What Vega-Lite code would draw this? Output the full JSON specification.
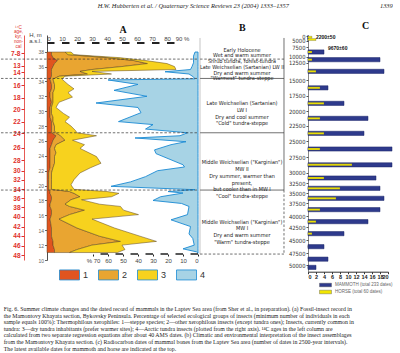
{
  "$schema": "https://vega.github.io/schema/vega-lite/v6.json",
  "background": "white",
  "padding": {"left": 0, "top": 2, "right": 0, "bottom": 0},
  "config": {"view": {"stroke": null}, "font": "Liberation Sans", "axis": {"grid": false, "labelOverlap": false}},
  "title": {
    "text": "H.W. Hubberten et al. / Quaternary Science Reviews 23 (2004) 1333–1357\u00a0\u00a0\u00a0\u00a0\u00a0\u00a0\u00a0\u00a0\u00a0\u00a0\u00a0\u00a0\u00a0\u00a0\u00a0\u00a0\u00a0\u00a0\u00a0\u00a0\u00a0\u00a0\u00a0\u00a0\u00a0\u00a0\u00a0\u00a0\u00a0\u00a0\u00a0\u00a0\u00a0\u00a0\u00a0\u00a0\u00a0\u00a0\u00a0\u00a0\u00a0\u00a0\u00a0\u00a0\u00a0\u00a0\u00a0\u00a0\u00a0\u00a0\u00a0\u00a0\u00a0\u00a0\u00a0\u00a0\u00a01339",
    "anchor": "start", "frame": "bounds", "dx": 97, "offset": 12,
    "font": "Liberation Serif", "fontStyle": "italic", "fontWeight": "normal", "fontSize": 6.4, "color": "#222"
  },
  "bounds": "flush",
  "spacing": 2,
  "resolve": {"scale": {"color": "independent"}, "legend": {"color": "independent"}},
  "hconcat": [
    {
      "width": 151,
      "height": 225,
      "title": {
        "text": [
          "Fig. 6. Summer climate changes and the dated record of mammals in the Laptev Sea area (from Sher et al., in preparation). (a) Fossil-insect record in",
          "the Mamontovy Khayata section, Bykovsky Peninsula. Percentage of selected ecological groups of insects (minimum number of individuals in each",
          "sample equals 100%): Thermophilous xerophiles: 1—steppe species; 2—other xerophilous insects (except tundra ones); Insects, currently common in",
          "tundra: 3—dry tundra inhabitants (prefer warmer sites); 4—Arctic tundra insects (plotted from the right axis). ¹⁴C ages in the left column are",
          "calculated from two separate regression equations after about 40 AMS dates. (b) Climatic and environmental interpretation of the insect assemblages",
          "from the Mamontovy Khayata section. (c) Radiocarbon dates of mammal bones from the Laptev Sea area (number of dates in 2500-year intervals).",
          "The latest available dates for mammoth and horse are indicated at the top."
        ],
        "orient": "bottom", "anchor": "start", "frame": "bounds", "dx": 3, "offset": 24,
        "font": "Liberation Serif", "fontSize": 5.85, "fontWeight": "normal", "lineHeight": 6.6, "color": "#222"
      },
      "resolve": {"scale": {"x": "independent", "y": "independent"}},
      "layer": [
        {
          "data": {"values": [
            {"H": 37.95, "1": 3, "2": 9, "3": 4},
            {"H": 37.6, "1": 3, "2": 11, "3": 4},
            {"H": 37.2, "1": 4, "2": 36, "3": 8},
            {"H": 36.8, "1": 7, "2": 51, "3": 8},
            {"H": 36.4, "1": 5, "2": 62, "3": 13},
            {"H": 36.0, "1": 4, "2": 46, "3": 35},
            {"H": 35.6, "1": 3, "2": 27, "3": 56},
            {"H": 35.35, "1": 3, "2": 19, "3": 8},
            {"H": 35.0, "1": 3, "2": 24, "3": 16},
            {"H": 34.7, "1": 3, "2": 5, "3": 4},
            {"H": 34.3, "1": 2, "2": 2, "3": 6},
            {"H": 33.6, "1": 3, "2": 2, "3": 9},
            {"H": 33.0, "1": 3, "2": 2, "3": 13},
            {"H": 32.5, "1": 2, "2": 2, "3": 10},
            {"H": 31.9, "1": 2, "2": 2, "3": 13},
            {"H": 31.2, "1": 3, "2": 1, "3": 4},
            {"H": 30.5, "1": 2, "2": 1, "3": 3},
            {"H": 29.7, "1": 2, "2": 1, "3": 8},
            {"H": 29.2, "1": 2, "2": 2, "3": 11},
            {"H": 28.6, "1": 3, "2": 1, "3": 8},
            {"H": 28.0, "1": 3, "2": 2, "3": 11},
            {"H": 27.4, "1": 3, "2": 2, "3": 14},
            {"H": 27.1, "1": 3, "2": 3, "3": 14},
            {"H": 26.7, "1": 6, "2": 3, "3": 24},
            {"H": 26.1, "1": 4, "2": 8, "3": 5},
            {"H": 25.5, "1": 3, "2": 3, "3": 19},
            {"H": 25.0, "1": 2, "2": 3, "3": 17},
            {"H": 24.4, "1": 2, "2": 4, "3": 22},
            {"H": 23.9, "1": 2, "2": 3, "3": 28},
            {"H": 23.0, "1": 2, "2": 3, "3": 31},
            {"H": 22.4, "1": 2, "2": 2, "3": 25},
            {"H": 21.7, "1": 1, "2": 2, "3": 19},
            {"H": 20.8, "1": 1, "2": 2, "3": 15},
            {"H": 20.1, "1": 1, "2": 2, "3": 13},
            {"H": 19.5, "1": 1, "2": 2, "3": 15},
            {"H": 19.2, "1": 2, "2": 13, "3": 25},
            {"H": 18.96, "1": 2, "2": 16, "3": 30},
            {"H": 18.5, "1": 3, "2": 19, "3": 21},
            {"H": 18.1, "1": 3, "2": 13, "3": 7},
            {"H": 17.5, "1": 2, "2": 10, "3": 23},
            {"H": 17.2, "1": 2, "2": 13, "3": 34},
            {"H": 16.7, "1": 3, "2": 22, "3": 26},
            {"H": 16.1, "1": 3, "2": 12, "3": 46},
            {"H": 15.5, "1": 2, "2": 6, "3": 22},
            {"H": 14.3, "1": 3, "2": 17, "3": 25},
            {"H": 13.2, "1": 3, "2": 32, "3": 27},
            {"H": 12.5, "1": 4, "2": 45, "3": 24},
            {"H": 12.0, "1": 4, "2": 26, "3": 20},
            {"H": 11.4, "1": 5, "2": 15, "3": 32},
            {"H": 11.0, "1": 5, "2": 10, "3": 32}
          ]},
          "transform": [{"fold": ["1", "2", "3"], "as": ["group", "pct"]}],
          "mark": {"type": "area", "orient": "horizontal", "stroke": "#5a4320", "strokeWidth": 0.5, "opacity": 1},
          "encoding": {
            "y": {"field": "H", "type": "quantitative",
              "scale": {"domain": [10, 40.24], "nice": false, "zero": false},
              "axis": {"orient": "left", "values": [10, 12, 14, 16, 18, 20, 22, 24, 26, 28, 30, 32, 34, 36, 38],
                "title": ["H, m", "a.s.l."], "titleAngle": 0, "titleX": -12, "titleY": -4, "titleAlign": "center", "titleBaseline": "top",
                "titleFontSize": 6, "titleFontWeight": "normal", "titleColor": "#444", "titleLineHeight": 6.5,
                "labelFontSize": 5, "labelColor": "#666", "labelPadding": 1, "tickSize": 2.5, "tickColor": "#666",
                "domainColor": "#222", "domainWidth": 0.8}},
            "x": {"field": "pct", "type": "quantitative", "stack": "zero",
              "scale": {"domain": [0, 100.67], "nice": false},
              "axis": {"orient": "top", "offset": -8, "values": [0, 10, 20, 30, 40, 50, 60, 70, 80, 90],
                "labelExpr": "datum.value == 90 ? '90 %' : datum.label",
                "title": "A", "titleFont": "Liberation Serif", "titleFontSize": 10, "titleFontWeight": "bold", "titlePadding": 1, "titleColor": "#111",
                "labelFontSize": 6, "labelColor": "#444", "labelPadding": 2, "tickSize": 0, "domain": false}},
            "color": {"field": "group", "type": "nominal",
              "scale": {"domain": ["1", "2", "3", "4"], "range": ["#e0541f", "#e9a531", "#f7d21e", "#a7d3e5"]},
              "legend": {"orient": "none", "legendX": 12, "legendY": 229, "direction": "horizontal", "title": null,
                "symbolType": "M-1,-0.5H1V0.5H-1Z", "symbolSize": 400, "symbolStrokeColor": "#333", "symbolStrokeWidth": 0.8, "symbolOpacity": 1,
                "labelFontSize": 9, "labelColor": "#333", "labelOffset": 3, "columnPadding": 7, "labelBaseline": "middle"}},
            "order": {"field": "group", "sort": "ascending"}
          }
        },
        {
          "data": {"values": [
            {"H": 37.95, "a": 2}, {"H": 37.4, "a": 3}, {"H": 37.0, "a": 3}, {"H": 36.5, "a": 3},
            {"H": 36.0, "a": 4}, {"H": 35.6, "a": 5}, {"H": 35.3, "a": 22}, {"H": 35.0, "a": 6},
            {"H": 34.6, "a": 3}, {"H": 34.35, "a": 2}, {"H": 34.2, "a": 60}, {"H": 33.6, "a": 40},
            {"H": 32.8, "a": 56}, {"H": 32.0, "a": 34}, {"H": 31.1, "a": 68}, {"H": 30.5, "a": 40},
            {"H": 29.8, "a": 38}, {"H": 28.6, "a": 53}, {"H": 28.2, "a": 30}, {"H": 27.6, "a": 35},
            {"H": 27.1, "a": 7}, {"H": 26.7, "a": 12}, {"H": 26.4, "a": 42}, {"H": 25.9, "a": 8},
            {"H": 25.5, "a": 18}, {"H": 24.8, "a": 29}, {"H": 24.3, "a": 28}, {"H": 23.8, "a": 22},
            {"H": 22.8, "a": 10}, {"H": 22.5, "a": 9}, {"H": 22.0, "a": 27}, {"H": 21.2, "a": 35},
            {"H": 20.5, "a": 45}, {"H": 19.9, "a": 58}, {"H": 19.45, "a": 2}, {"H": 19.2, "a": 20},
            {"H": 19.0, "a": 10}, {"H": 18.5, "a": 25}, {"H": 18.0, "a": 30}, {"H": 17.6, "a": 11},
            {"H": 17.2, "a": 6}, {"H": 16.1, "a": 7}, {"H": 15.4, "a": 18}, {"H": 14.5, "a": 5},
            {"H": 13.5, "a": 6}, {"H": 12.9, "a": 3.5}, {"H": 12.0, "a": 2.5}, {"H": 11.5, "a": 10},
            {"H": 11.1, "a": 1}, {"H": 10.9, "a": 0}
          ]},
          "mark": {"type": "area", "orient": "horizontal", "stroke": "#1a8ad4", "strokeWidth": 0.9, "opacity": 1},
          "encoding": {
            "y": {"field": "H", "type": "quantitative", "scale": {"domain": [10, 40.24], "nice": false, "zero": false}, "axis": null},
            "x": {"field": "a", "type": "quantitative",
              "scale": {"domain": [0, 100.67], "reverse": true, "nice": false},
              "axis": {"orient": "bottom", "offset": -6, "values": [0, 10, 20, 30, 40, 50, 60, 70],
                "labelExpr": "datum.value == 70 ? '% 70' : datum.label", "title": null,
                "labelFontSize": 6, "labelColor": "#444", "labelPadding": 1, "tickSize": 2, "tickColor": "#222", "domain": false}},
            "color": {"datum": "4"}
          }
        },
        {
          "data": {"values": [{"bar": "arctic scale"}]},
          "mark": {"type": "rule", "stroke": "#222", "strokeWidth": 1.5, "strokeDash": [7.5, 7.5]},
          "encoding": {
            "x": {"datum": 0, "type": "quantitative", "scale": {"domain": [0, 100.67], "reverse": true, "nice": false}, "axis": null},
            "x2": {"datum": 70},
            "y": {"datum": 10.81, "type": "quantitative", "scale": {"domain": [10, 40.24], "nice": false, "zero": false}, "axis": null}
          }
        },
        {
          "data": {"values": [{"bar": "percent scale"}]},
          "mark": {"type": "rule", "stroke": "#222", "strokeWidth": 2, "strokeDash": [7.5, 7.5]},
          "encoding": {
            "x": {"datum": 0, "type": "quantitative", "scale": {"domain": [0, 100.67], "nice": false}, "axis": null},
            "x2": {"datum": 90},
            "y": {"datum": 39.17, "type": "quantitative", "scale": {"domain": [10, 40.24], "nice": false, "zero": false}, "axis": null}
          }
        },
        {
          "data": {"values": [{"H": 37.0}, {"H": 34.4}, {"H": 27.1}, {"H": 19.4}]},
          "mark": {"type": "rule", "strokeDash": [2.5, 1.8], "stroke": "#333", "strokeWidth": 0.7},
          "encoding": {
            "y": {"field": "H", "type": "quantitative",
              "scale": {"domain": [10, 40.24], "nice": false, "zero": false},
              "axis": {"orient": "left", "offset": 23,
                "values": [37.78, 36.12, 35.23, 33.52, 31.82, 30.26, 28.59, 27.03, 25.1, 23.44, 22.01, 20.76, 19.51, 18.3, 17.09, 15.82, 14.48, 13.27, 11.92, 10.67],
                "labelExpr": "['7-8','13','14','16','18','20','22','24','26','28','30','32','34','36','38','40','42','44','46','48'][indexof([37.78,36.12,35.23,33.52,31.82,30.26,28.59,27.03,25.1,23.44,22.01,20.76,19.51,18.3,17.09,15.82,14.48,13.27,11.92,10.67], datum.value)]",
                "labelColor": "#e0302a", "labelFontWeight": "bold", "labelFontSize": 6.5, "labelPadding": 1,
                "tickColor": "#e0302a", "tickSize": 3, "domainColor": "#e0302a", "domainWidth": 0.8,
                "title": ["¹⁴C", "age,", "kyr,", "non-", "cal"], "titleAngle": 0, "titleX": -6, "titleY": -11,
                "titleAlign": "center", "titleBaseline": "top", "titleColor": "#e0302a", "titleFontSize": 4.6,
                "titleLineHeight": 4.8, "titleFontWeight": "normal"}},
            "x": {"datum": -30.67, "type": "quantitative", "scale": {"domain": [0, 100.67], "nice": false}, "axis": null},
            "x2": {"datum": 100.67}
          }
        }
      ]
    },
    {
      "width": 106,
      "height": 225,
      "title": {"text": "B", "anchor": "start", "frame": "group", "dx": 39, "offset": 2,
        "font": "Liberation Serif", "fontSize": 10, "fontWeight": "bold", "color": "#111"},
      "layer": [
        {
          "data": {"values": [
            {"label": "Early Holocene\nWet and warm summer\nShrub tundra, forest-tundra", "H": 38.2},
            {"label": "Late Weichselian (Sartanian) LW II\nDry and warm summer\n\"Warmest\" tundra-steppe", "H": 35.9}
          ]},
          "mark": {"type": "text", "font": "Liberation Sans Narrow, DejaVu Sans Condensed, sans-serif", "fontSize": 5.5, "color": "#222",
            "align": "center", "baseline": "middle", "lineBreak": "\n", "lineHeight": 5.3},
          "encoding": {
            "x": {"datum": 0.5, "type": "quantitative", "scale": {"domain": [0, 1.262], "nice": false, "zero": false}, "axis": null},
            "y": {"field": "H", "type": "quantitative", "scale": {"domain": [10, 40.24], "nice": false, "zero": false}, "axis": null},
            "text": {"field": "label"}
          }
        },
        {
          "data": {"values": [
            {"label": "Late Weichselian (Sartanian)\nLW I\nDry and cool summer\n\"Cold\" tundra-steppe", "H": 31.1},
            {"label": "Middle Weichselian (\"Karginian\")\nMW II\nDry summer, warmer than\npresent,\nbut cooler than in MW I\n\"Cool\" tundra-steppe", "H": 23.15},
            {"label": "Middle Weichselian (\"Karginian\")\nMW I\nDry and warm summer\n\"Warm\" tundra-steppe", "H": 15.15}
          ]},
          "mark": {"type": "text", "font": "Liberation Sans Narrow, DejaVu Sans Condensed, sans-serif", "fontSize": 5.5, "color": "#222",
            "align": "center", "baseline": "middle", "lineBreak": "\n", "lineHeight": 6.8},
          "encoding": {
            "x": {"datum": 0.5, "type": "quantitative", "scale": {"domain": [0, 1.262], "nice": false, "zero": false}, "axis": null},
            "y": {"field": "H", "type": "quantitative", "scale": {"domain": [10, 40.24], "nice": false, "zero": false}, "axis": null},
            "text": {"field": "label"}
          }
        },
        {
          "data": {"values": [{"H": 34.4}, {"H": 27.1}, {"H": 19.4}]},
          "mark": {"type": "rule", "stroke": "#333", "strokeWidth": 0.7},
          "encoding": {
            "x": {"datum": 0, "type": "quantitative", "scale": {"domain": [0, 1.262], "nice": false, "zero": false}, "axis": null},
            "x2": {"datum": 1},
            "y": {"field": "H", "type": "quantitative", "scale": {"domain": [10, 40.24], "nice": false, "zero": false}, "axis": null}
          }
        },
        {
          "data": {"values": [{"H": 37.0}, {"H": 10.8}]},
          "mark": {"type": "rule", "stroke": "#333", "strokeWidth": 0.7, "strokeDash": [2.5, 1.8]},
          "encoding": {
            "x": {"datum": 0, "type": "quantitative", "scale": {"domain": [0, 1.262], "nice": false, "zero": false}, "axis": null},
            "x2": {"datum": 1},
            "y": {"field": "H", "type": "quantitative", "scale": {"domain": [10, 40.24], "nice": false, "zero": false}, "axis": null}
          }
        },
        {
          "data": {"values": [{"side": "right"}]},
          "mark": {"type": "rule", "stroke": "#333", "strokeWidth": 0.7},
          "encoding": {
            "x": {"datum": 1, "type": "quantitative", "scale": {"domain": [0, 1.262], "nice": false, "zero": false}, "axis": null},
            "y": {"datum": 39.84, "type": "quantitative", "scale": {"domain": [10, 40.24], "nice": false, "zero": false}, "axis": null},
            "y2": {"datum": 19.4}
          }
        },
        {
          "data": {"values": [{"side": "right"}]},
          "mark": {"type": "rule", "stroke": "#333", "strokeWidth": 0.7, "strokeDash": [2.5, 1.8]},
          "encoding": {
            "x": {"datum": 1, "type": "quantitative", "scale": {"domain": [0, 1.262], "nice": false, "zero": false}, "axis": null},
            "y": {"datum": 19.4, "type": "quantitative", "scale": {"domain": [10, 40.24], "nice": false, "zero": false}, "axis": null},
            "y2": {"datum": 10.8}
          }
        },
        {
          "data": {"values": [{"side": "left"}]},
          "mark": {"type": "rule", "stroke": "#888", "strokeWidth": 0.5},
          "encoding": {
            "x": {"datum": 0, "type": "quantitative", "scale": {"domain": [0, 1.262], "nice": false, "zero": false}, "axis": null},
            "y": {"datum": 39.84, "type": "quantitative", "scale": {"domain": [10, 40.24], "nice": false, "zero": false}, "axis": null},
            "y2": {"datum": 10.8}
          }
        }
      ]
    },
    {
      "width": 80,
      "height": 225,
      "title": {"text": "C", "anchor": "start", "frame": "group", "dx": 54, "offset": 2,
        "font": "Liberation Serif", "fontSize": 10, "fontWeight": "bold", "color": "#111"},
      "data": {"values": [
        {"interval": "0-2500", "age": 1250, "mammoth": 0, "horse": 1},
        {"interval": "2500-5000", "age": 3750, "mammoth": 0, "horse": 2},
        {"interval": "7500-10000", "age": 8750, "mammoth": 4, "horse": 1},
        {"interval": "10000-12500", "age": 11250, "mammoth": 18, "horse": 1},
        {"interval": "12500-15000", "age": 13750, "mammoth": 19, "horse": 2},
        {"interval": "15000-17500", "age": 16250, "mammoth": 5, "horse": 3},
        {"interval": "17500-20000", "age": 18750, "mammoth": 9, "horse": 4},
        {"interval": "20000-22500", "age": 21250, "mammoth": 15, "horse": 3},
        {"interval": "22500-25000", "age": 23750, "mammoth": 14, "horse": 4},
        {"interval": "25000-27500", "age": 26250, "mammoth": 21, "horse": 3},
        {"interval": "27500-30000", "age": 28750, "mammoth": 21, "horse": 11},
        {"interval": "30000-32500", "age": 31250, "mammoth": 17, "horse": 4},
        {"interval": "32500-35000", "age": 33750, "mammoth": 18, "horse": 8},
        {"interval": "35000-37500", "age": 36250, "mammoth": 19, "horse": 7},
        {"interval": "37500-40000", "age": 38750, "mammoth": 18, "horse": 3},
        {"interval": "40000-42500", "age": 41250, "mammoth": 15, "horse": 2},
        {"interval": "42500-45000", "age": 43750, "mammoth": 9, "horse": 1},
        {"interval": "45000-47500", "age": 46250, "mammoth": 4, "horse": 0},
        {"interval": "47500-50000", "age": 48750, "mammoth": 5, "horse": 0},
        {"interval": "50000-52500", "age": 51250, "mammoth": 2, "horse": 0}
      ]},
      "encoding": {
        "y": {"field": "age", "type": "quantitative",
          "scale": {"domain": [0, 5000, 7500, 10000, 12500, 15000, 17500, 20000, 22500, 25000, 27500, 30000, 32500, 35000, 37500, 40000, 42500, 45000, 47500, 50000, 52500],
            "range": [0, 5.7, 12.3, 21.7, 27.7, 45, 60.7, 76, 90.7, 106, 122, 137.7, 148.3, 158.3, 168.3, 181, 192.3, 205, 218.3, 230, 237],
            "nice": false, "zero": false},
          "axis": {"orient": "left", "values": [0, 5000, 7500, 10000, 12500, 15000, 17500, 20000, 22500, 25000, 27500, 30000, 32500, 35000, 37500, 40000, 42500, 45000, 47500, 50000],
            "format": "d", "title": null, "labelFont": "Liberation Sans Narrow, DejaVu Sans Condensed, sans-serif", "labelFontSize": 5.8,
            "labelColor": "#333", "labelPadding": 1, "labelOverlap": false, "tickSize": 2, "tickColor": "#555", "domainColor": "#555", "domainWidth": 0.7}}
      },
      "layer": [
        {
          "mark": {"type": "bar", "orient": "horizontal", "size": 4.2, "stroke": "#1b2466", "strokeWidth": 0.5},
          "encoding": {
            "x": {"field": "mammoth", "type": "quantitative", "scale": {"domain": [0, 20], "nice": false},
              "axis": {"orient": "bottom", "offset": 11.7, "values": [0, 2, 4, 6, 8, 10, 12, 14, 16, 18, 20], "title": null, "labelOverlap": false,
                "labelFontSize": 5.5, "labelFontWeight": "bold", "labelColor": "#222", "labelPadding": 1, "tickSize": 2,
                "domainColor": "#333", "tickColor": "#333"}},
            "color": {"datum": "MAMMOTH (total 233 dates)",
              "scale": {"domain": ["MAMMOTH (total 233 dates)", "HORSE (total 60 dates)"], "range": ["#2e3a8c", "#f2e600"]},
              "legend": {"orient": "none", "legendX": 14, "legendY": 246.5, "direction": "vertical", "title": null,
                "symbolType": "M-2,-0.6H2V0.6H-2Z", "symbolSize": 36, "symbolStrokeColor": "#1b2466", "symbolStrokeWidth": 0.4, "symbolOpacity": 1,
                "labelFontSize": 4.5, "labelColor": "#666", "rowPadding": 0, "labelOffset": 6}}
          }
        },
        {
          "mark": {"type": "bar", "orient": "horizontal", "size": 2, "stroke": "#555", "strokeWidth": 0.3},
          "encoding": {
            "x": {"field": "horse", "type": "quantitative",
              "axis": {"orient": "bottom", "offset": 11.7, "values": [0, 2, 4, 6, 8, 10, 12, 14, 16, 18, 20], "title": null, "labelOverlap": false,
                "labelFontSize": 5.5, "labelFontWeight": "bold", "labelColor": "#222", "labelPadding": 1, "tickSize": 2,
                "domainColor": "#333", "tickColor": "#333"}},
            "color": {"datum": "HORSE (total 60 dates)"}
          }
        },
        {
          "data": {"values": [{"label": "2200±50", "age": 2200}]},
          "mark": {"type": "text", "align": "left", "baseline": "middle", "fontSize": 5, "fontWeight": "bold", "color": "#111", "dy": -1.5},
          "encoding": {
            "x": {"datum": 2, "type": "quantitative",
              "axis": {"orient": "bottom", "offset": 11.7, "values": [0, 2, 4, 6, 8, 10, 12, 14, 16, 18, 20], "title": null, "labelOverlap": false,
                "labelFontSize": 5.5, "labelFontWeight": "bold", "labelColor": "#222", "labelPadding": 1, "tickSize": 2,
                "domainColor": "#333", "tickColor": "#333"}},
            "text": {"field": "label"}
          }
        },
        {
          "data": {"values": [{"label": "9670±60", "age": 9670}]},
          "mark": {"type": "text", "align": "left", "baseline": "middle", "fontSize": 5, "fontWeight": "bold", "color": "#111", "dy": -7.5},
          "encoding": {
            "x": {"datum": 5, "type": "quantitative",
              "axis": {"orient": "bottom", "offset": 11.7, "values": [0, 2, 4, 6, 8, 10, 12, 14, 16, 18, 20], "title": null, "labelOverlap": false,
                "labelFontSize": 5.5, "labelFontWeight": "bold", "labelColor": "#222", "labelPadding": 1, "tickSize": 2,
                "domainColor": "#333", "tickColor": "#333"}},
            "text": {"field": "label"}
          }
        }
      ]
    }
  ]
}
